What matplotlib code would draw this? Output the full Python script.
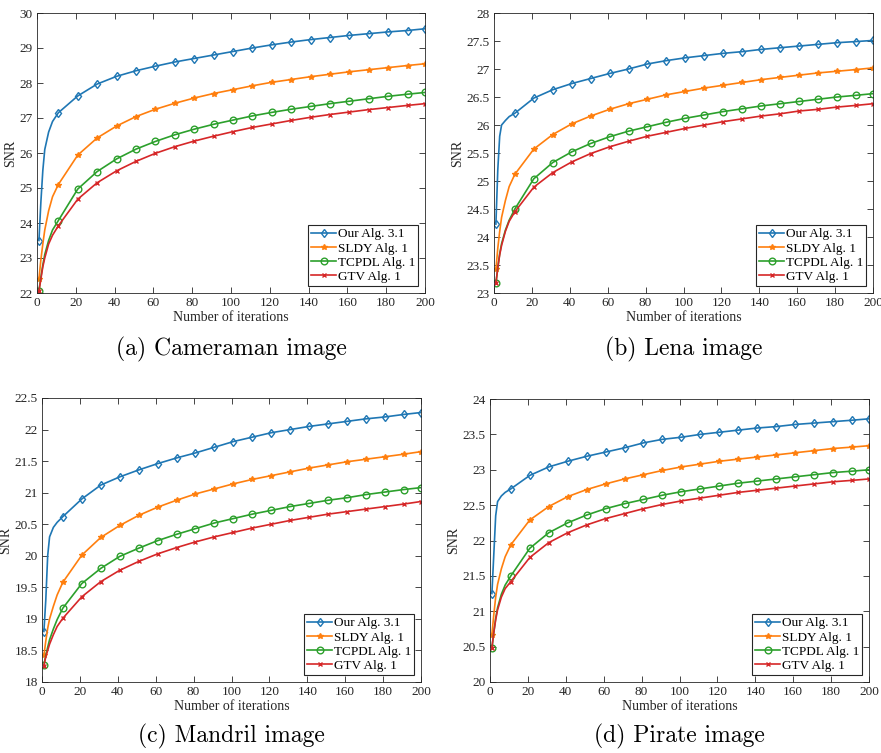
import matplotlib
matplotlib.use("Agg")
import matplotlib.pyplot as plt
import numpy as np

W, H = 881, 753

ITER = [1, 2, 3, 4, 6, 8, 11, 21, 31, 41, 51, 61, 71, 81, 91, 101, 111, 121,
        131, 141, 151, 161, 171, 181, 191, 200]
MARK_IDX = [0] + list(range(6, 26))

LABELS = ["Our Alg. 3.1", "SLDY Alg. 1", "TCPDL Alg. 1", "GTV Alg. 1"]
CAPTIONS = ["(a) Cameraman image", "(b) Lena image", "(c) Mandril image", "(d) Pirate image"]

# (a) Cameraman
cam_our = [23.5, 24.6, 25.5, 26.1, 26.6, 26.9, 27.15, 27.63, 27.97, 28.19, 28.35, 28.48, 28.6, 28.7,
           28.8, 28.9, 29.0, 29.09, 29.17, 29.24, 29.3, 29.36, 29.41, 29.46, 29.5, 29.55]
cam_sldy = [22.4, 22.95, 23.4, 23.8, 24.35, 24.75, 25.1, 25.94, 26.43, 26.77, 27.04, 27.25, 27.42, 27.57,
            27.7, 27.81, 27.92, 28.02, 28.1, 28.18, 28.25, 28.32, 28.38, 28.44, 28.5, 28.55]
cam_tcpdl = [22.07, 22.45, 22.8, 23.1, 23.5, 23.8, 24.07, 24.97, 25.47, 25.83, 26.11, 26.33, 26.52, 26.68,
             26.82, 26.94, 27.06, 27.16, 27.25, 27.33, 27.41, 27.48, 27.55, 27.62, 27.68, 27.73]
cam_gtv = [22.05, 22.4, 22.75, 23.0, 23.4, 23.65, 23.92, 24.68, 25.15, 25.49, 25.76, 25.99, 26.18, 26.34,
           26.48, 26.61, 26.73, 26.83, 26.93, 27.02, 27.1, 27.17, 27.24, 27.3, 27.36, 27.41]

# (b) Lena
lena_our = [24.23, 25.2, 25.8, 26.0, 26.08, 26.15, 26.21, 26.48, 26.63, 26.74, 26.83, 26.92, 27.0, 27.09,
            27.15, 27.2, 27.24, 27.28, 27.31, 27.35, 27.38, 27.41, 27.44, 27.47, 27.49, 27.51]
lena_sldy = [23.42, 23.8, 24.1, 24.35, 24.65, 24.9, 25.12, 25.57, 25.83, 26.02, 26.16, 26.28, 26.38, 26.46,
             26.54, 26.6, 26.66, 26.71, 26.76, 26.81, 26.85, 26.89, 26.93, 26.96, 26.99, 27.02]
lena_tcpdl = [23.17, 23.45, 23.7, 23.88, 24.12, 24.3, 24.5, 25.04, 25.33, 25.52, 25.67, 25.79, 25.89, 25.97,
              26.05, 26.12, 26.18, 26.24, 26.29, 26.34, 26.38, 26.42, 26.46, 26.5, 26.53, 26.56]
lena_gtv = [23.17, 23.45, 23.68, 23.85, 24.1, 24.28, 24.45, 24.89, 25.15, 25.34, 25.49, 25.61, 25.71, 25.8,
            25.87, 25.94, 26.0, 26.06, 26.11, 26.16, 26.2, 26.25, 26.28, 26.32, 26.35, 26.38]

# (c) Mandril
man_our = [18.8, 19.3, 20.0, 20.3, 20.45, 20.53, 20.62, 20.9, 21.12, 21.25, 21.36, 21.46, 21.55, 21.63,
           21.72, 21.81, 21.88, 21.95, 22.0, 22.05, 22.09, 22.13, 22.17, 22.2, 22.24, 22.27]
man_sldy = [18.42, 18.65, 18.85, 19.0, 19.2, 19.38, 19.58, 20.01, 20.29, 20.48, 20.64, 20.77, 20.88, 20.98,
            21.06, 21.14, 21.21, 21.27, 21.33, 21.39, 21.44, 21.49, 21.53, 21.57, 21.61, 21.65]
man_tcpdl = [18.27, 18.42, 18.55, 18.67, 18.84, 18.99, 19.17, 19.56, 19.8, 19.99, 20.12, 20.24, 20.34, 20.43,
             20.52, 20.59, 20.66, 20.72, 20.78, 20.83, 20.88, 20.92, 20.97, 21.01, 21.05, 21.08]
man_gtv = [18.26, 18.4, 18.5, 18.6, 18.75, 18.88, 19.01, 19.35, 19.59, 19.77, 19.91, 20.03, 20.13, 20.22,
           20.3, 20.37, 20.44, 20.5, 20.56, 20.61, 20.66, 20.7, 20.74, 20.78, 20.82, 20.86]

# (d) Pirate
pir_our = [21.25, 21.8, 22.35, 22.55, 22.63, 22.68, 22.73, 22.92, 23.04, 23.12, 23.19, 23.25, 23.31, 23.38,
           23.43, 23.46, 23.5, 23.53, 23.56, 23.59, 23.61, 23.64, 23.66, 23.68, 23.7, 23.72]
pir_sldy = [20.67, 20.95, 21.2, 21.38, 21.6, 21.77, 21.94, 22.29, 22.48, 22.62, 22.72, 22.8, 22.87, 22.93,
            22.99, 23.04, 23.08, 23.12, 23.15, 23.18, 23.21, 23.24, 23.27, 23.3, 23.32, 23.34]
pir_tcpdl = [20.48, 20.7, 20.9, 21.05, 21.24, 21.37, 21.5, 21.89, 22.11, 22.25, 22.36, 22.45, 22.52, 22.58,
             22.64, 22.69, 22.73, 22.77, 22.81, 22.84, 22.87, 22.9, 22.93, 22.96, 22.98, 23.0]
pir_gtv = [20.48, 20.7, 20.88, 21.02, 21.2, 21.32, 21.42, 21.76, 21.97, 22.11, 22.22, 22.31, 22.38, 22.45,
           22.51, 22.56, 22.6, 22.64, 22.68, 22.71, 22.74, 22.77, 22.8, 22.83, 22.85, 22.87]

YLIMS = [(22, 30), (23, 28), (18, 22.5), (20, 24)]
YSTEPS = [1, 0.5, 0.5, 0.5]
PANELS = [
    [cam_our, cam_sldy, cam_tcpdl, cam_gtv],
    [lena_our, lena_sldy, lena_tcpdl, lena_gtv],
    [man_our, man_sldy, man_tcpdl, man_gtv],
    [pir_our, pir_sldy, pir_tcpdl, pir_gtv],
]

COLORS = ["#1f77b4", "#ff7f0e", "#2ca02c", "#d62728"]
MARKERS = ["d", "*", "o", "x"]
MSIZES = [4.5, 3.8, 4.8, 3.2]
MFC = ["none", None, "none", None]

# pixel boxes: left, top, right, bottom
BOXES = [(37, 13, 425, 293), (494, 13, 873, 293), (42, 398, 421, 682), (490, 399, 869, 682)]
CAP_Y = [349, 349, 736, 736]

serif = ["Liberation Serif", "DejaVu Serif"]
fig = plt.figure(figsize=(W / 100, H / 100), dpi=100)

for i, (box, series) in enumerate(zip(BOXES, PANELS)):
    l, t, r, b = box
    ax = fig.add_axes([l / W, 1 - b / H, (r - l) / W, (b - t) / H])
    for s, lab, c, m, ms, mfc in zip(series, LABELS, COLORS, MARKERS, MSIZES, MFC):
        kw = dict(color=c, lw=1.2, marker=m, ms=ms, markevery=MARK_IDX, label=lab, mew=1.0)
        if mfc is not None:
            kw["mfc"] = mfc
        ax.plot(ITER, s, **kw)
    ax.set_xlim(0, 200)
    ax.set_ylim(*YLIMS[i])
    ax.set_xticks(np.arange(0, 201, 20))
    lo, hi = YLIMS[i]
    yt = np.arange(lo, hi + 1e-9, YSTEPS[i])
    ax.set_yticks(yt)
    ax.set_yticklabels([("%g" % v) for v in yt], family=serif)
    ax.set_xticklabels([str(v) for v in range(0, 201, 20)], family=serif)
    ax.tick_params(direction="in", top=True, right=True, length=4, width=0.6,
                   labelsize=9.5, colors="#262626", pad=3)
    for sp in ax.spines.values():
        sp.set_linewidth(0.6)
        sp.set_color("#262626")
    ax.set_ylabel("SNR", family=serif, fontsize=10, color="#262626", labelpad=2)
    ax.set_xlabel("Number of iterations", family=serif, fontsize=10, color="#262626", labelpad=1)
    leg = ax.legend(loc="lower right", prop={"family": serif, "size": 9.5}, fancybox=False,
                    edgecolor="#262626", framealpha=1, borderpad=0.25, labelspacing=0.15,
                    handlelength=1.9, handletextpad=0.1, borderaxespad=0.5)
    leg.get_frame().set_linewidth(0.8)
    cx = (l + r) / 2 / W
    fig.text(cx, 1 - CAP_Y[i] / H, CAPTIONS[i], family="cmr10", fontsize=17,
             ha="center", va="center")

fig.savefig("out.png", dpi=100)
